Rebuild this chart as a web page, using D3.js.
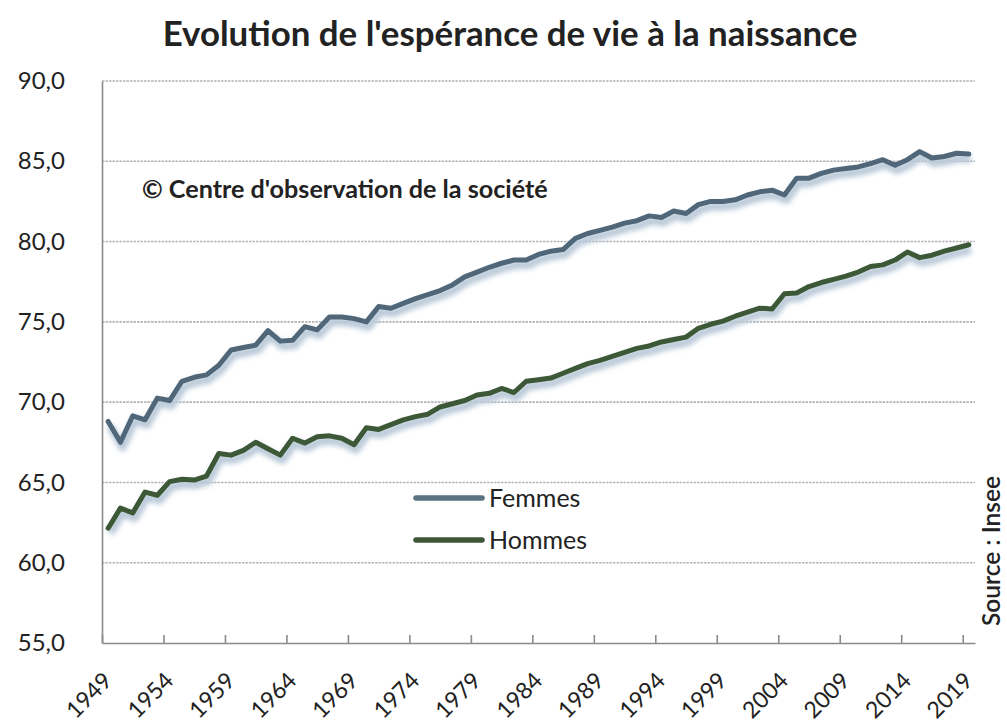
<!DOCTYPE html>
<html><head><meta charset="utf-8">
<script src="https://cdn.jsdelivr.net/npm/d3@7/dist/d3.min.js"></script>
<style>
html,body{margin:0;padding:0;background:#fff;}
svg{display:block;}
text{font-family:Lato,"Noto Sans",sans-serif;fill:#222;}
</style></head>
<body>
<svg id="chart" width="1007" height="728"></svg>
<script>
const years = d3.range(1949, 2020);
const femmes = [68.8,67.5,69.15,68.9,70.25,70.1,71.3,71.55,71.7,72.3,
73.25,73.4,73.55,74.45,73.8,73.85,74.7,74.5,75.3,75.3,
75.2,75.0,75.95,75.85,76.15,76.45,76.7,76.95,77.3,77.8,
78.1,78.4,78.65,78.85,78.85,79.2,79.4,79.5,80.2,80.5,
80.7,80.9,81.15,81.3,81.6,81.5,81.9,81.75,82.3,82.5,
82.5,82.6,82.9,83.1,83.2,82.9,83.95,83.95,84.25,84.45,
84.55,84.65,84.85,85.1,84.75,85.1,85.6,85.2,85.3,85.5,85.45];
const hommes = [62.15,63.4,63.1,64.4,64.2,65.05,65.2,65.15,65.4,66.8,
66.7,67.0,67.5,67.1,66.7,67.75,67.45,67.85,67.9,67.75,
67.35,68.4,68.3,68.6,68.9,69.1,69.25,69.7,69.9,70.1,
70.45,70.55,70.85,70.6,71.3,71.4,71.5,71.8,72.1,72.4,
72.6,72.85,73.1,73.35,73.5,73.75,73.9,74.05,74.6,74.85,
75.05,75.35,75.6,75.85,75.8,76.75,76.8,77.2,77.45,77.65,
77.85,78.1,78.45,78.55,78.85,79.35,79.0,79.15,79.4,79.6,79.8];
const yTicks = [55,60,65,70,75,80,85,90];
const xTickYears = d3.range(1949, 2020, 5);
const seriesNames = ["Femmes","Hommes"];
const seriesColors = ["#4f6778","#3d5836"];
const legendColors = ["#5b7282","#3f5538"];
const titleText = "Evolution de l'espérance de vie à la naissance";
const copyrightText = "© Centre d'observation de la société";
const sourceText = "Source : Insee";

const svg = d3.select("#chart");
const L = 102, R = 975, T = 81, B = 643;
const x = d3.scaleLinear().domain([1949, 2020]).range([L, R]);
const y = d3.scaleLinear().domain([55, 90]).range([B, T]);

const defs = svg.append("defs");
defs.append("filter").attr("id","blur").attr("x","-5%").attr("y","-20%").attr("width","110%").attr("height","140%")
  .append("feGaussianBlur").attr("stdDeviation", 2.5);

// gridlines
svg.append("g").selectAll("line").data(yTicks.filter(d => d > 55)).join("line")
  .attr("x1", L).attr("x2", R).attr("y1", d => y(d)).attr("y2", d => y(d))
  .attr("stroke", "#b4b4b4").attr("stroke-width", 1.6).attr("stroke-dasharray", "2.5,1");

// y axis
const gy = svg.append("g").attr("transform", `translate(${L},0)`)
  .call(d3.axisLeft(y).tickValues(yTicks).tickSize(0).tickPadding(37)
    .tickFormat(d => d.toFixed(1).replace(".", ",")));
gy.select(".domain").attr("stroke", "#8a8a8a").attr("stroke-width", 1.6);
gy.selectAll("text").style("font-size", "24px").attr("fill", "#222");

// x axis
const gx = svg.append("g").attr("transform", `translate(0,${B})`)
  .call(d3.axisBottom(x).tickValues(xTickYears).tickSizeInner(-8).tickSizeOuter(0).tickFormat(d => d));
gx.select(".domain").attr("stroke", "#8a8a8a").attr("stroke-width", 1.6);
gx.selectAll(".tick line").attr("stroke", "#8a8a8a").attr("stroke-width", 1.6);
gx.selectAll("text").style("font-size", "23px").attr("fill", "#222")
  .attr("text-anchor", "end").attr("dy", null).attr("y", null)
  .attr("transform", "translate(11,39) rotate(-45)");

// lines
const line = d3.line().x((d, i) => x(years[i] + 0.5)).y(d => y(d)).curve(d3.curveLinear);
[femmes, hommes].forEach((s, k) => {
  svg.append("path").datum(s).attr("d", line).attr("fill", "none")
    .attr("stroke", "#b9c9d8").attr("stroke-width", 8).attr("stroke-linejoin", "round")
    .attr("transform", "translate(2,5)").attr("filter", "url(#blur)");
});
[femmes, hommes].forEach((s, k) => {
  svg.append("path").datum(s).attr("d", line).attr("fill", "none")
    .attr("stroke", seriesColors[k]).attr("stroke-width", 5)
    .attr("stroke-linejoin", "round").attr("stroke-linecap", "round");
});

// legend
const lg = svg.append("g");
seriesNames.forEach((n, i) => {
  const yy = 498 + i * 42;
  lg.append("line").attr("x1", 416).attr("x2", 482).attr("y1", yy).attr("y2", yy)
    .attr("stroke", legendColors[i]).attr("stroke-width", 5.5).attr("stroke-linecap", "round");
  lg.append("text").attr("x", 489).attr("y", yy + 9).style("font-size", "25px").text(n);
});

// title
function fit(sel, w) {
  const len = sel.node().getComputedTextLength();
  const fs = parseFloat(sel.style("font-size"));
  sel.style("font-size", (fs * w / len) + "px");
}
const title = svg.append("text").attr("x", 510).attr("y", 46).attr("text-anchor", "middle")
  .style("font-size", "28px").style("font-weight", "700").attr("fill", "#111").text(titleText);
fit(title, 695);

const copy = svg.append("text").attr("x", 142).attr("y", 198)
  .style("font-size", "19px").style("font-weight", "700").text(copyrightText);
fit(copy, 406);

const src = svg.append("text").attr("transform", "translate(1000,551) rotate(-90)").attr("text-anchor", "middle")
  .style("font-size", "19px").style("font-weight", "600").text(sourceText);
fit(src, 150);
</script>
</body></html>
